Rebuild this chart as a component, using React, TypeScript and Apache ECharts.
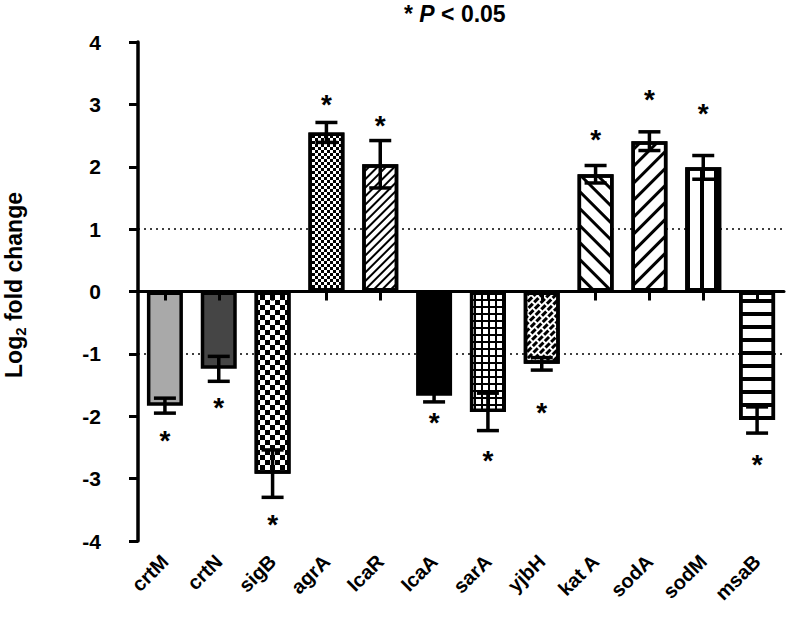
import React, { useEffect, useRef } from "react";
import * as echarts from "echarts";

const genes = ["crtM", "crtN", "sigB", "agrA", "IcaR", "IcaA", "sarA", "yjbH", "kat A", "sodA", "sodM", "msaB"];
const meanLog2FC = [-1.83, -1.24, -2.92, 2.55, 2.04, -1.67, -1.93, -1.16, 1.88, 2.41, 1.99, -2.06];
const errorSEM = [0.12, 0.2, 0.38, 0.16, 0.38, 0.1, 0.3, 0.1, 0.14, 0.15, 0.19, 0.21];
const starY = [-2.28, -1.75, -3.63, 3.11, 2.78, -1.99, -2.6, -1.83, 2.55, 3.19, 2.97, -2.66];
const yTicks = { min: -4, max: 4, interval: 1 };
const refLines = [1, -1];

const FONT = "'Liberation Sans', Arial, sans-serif";

const checker = (s: number) => ({
  symbol: "rect",
  symbolSize: 1,
  color: "#000",
  backgroundColor: "#fff",
  dashArrayX: [[s, s], [0, s, s, 0]],
  dashArrayY: [s, 0],
  rotation: 0,
});

const stripes = (thick: number, gap: number, rot: number) => ({
  symbol: "rect",
  symbolSize: 1,
  color: "#000",
  backgroundColor: "#fff",
  dashArrayX: [1, 0],
  dashArrayY: [thick, gap],
  rotation: rot,
});

const barStyles: any[] = [
  { color: "#a9a9a9" },
  { color: "#454545" },
  { color: "#fff", decal: checker(5) },
  { color: "#fff", decal: checker(2.5) },
  { color: "#fff", decal: stripes(1.6, 3.4, -Math.PI / 4) },
  { color: "#000" },
  {
    color: "#000",
    decal: {
      symbol: "rect",
      symbolSize: 1,
      color: "#fff",
      backgroundColor: "#000",
      dashArrayX: [5, 2],
      dashArrayY: [5, 2],
      rotation: 0,
    },
  },
  {
    color: "#fff",
    decal: {
      symbol: "rect",
      symbolSize: 1,
      color: "#000",
      backgroundColor: "#fff",
      dashArrayX: [[6, 1.5], [2, 1.5, 4, 0]],
      dashArrayY: [2.6, 1.2],
      rotation: -Math.PI / 4,
    },
  },
  { color: "#fff", decal: stripes(3, 9, Math.PI / 4) },
  { color: "#fff", decal: stripes(3, 9, -Math.PI / 4) },
  {
    color: "#fff",
    decal: {
      symbol: "rect",
      symbolSize: 1,
      color: "#000",
      backgroundColor: "#fff",
      dashArrayX: [3.5, 9.5],
      dashArrayY: [1, 0],
      rotation: 0,
    },
  },
  { color: "#fff", decal: stripes(3.5, 9, 0) },
];

export default function App() {
  const ref = useRef<HTMLDivElement>(null);
  useEffect(() => {
    if (!ref.current) return;
    const chart = echarts.init(ref.current, undefined, { renderer: "svg" });
    const option: any = {
      animation: false,
      backgroundColor: "#fff",
      textStyle: { fontFamily: FONT },
      grid: { left: 138, top: 42, width: 646, height: 499, containLabel: false },
      graphic: [
        {
          type: "text",
          left: 404,
          top: 2,
          style: {
            text: "{a|* }{b|P}{a| < 0.05}",
            rich: {
              a: { fontSize: 23, fontWeight: "bold", fontFamily: FONT, fill: "#000" },
              b: { fontSize: 23, fontWeight: "bold", fontStyle: "italic", fontFamily: FONT, fill: "#000" },
            },
          },
        },
        {
          type: "text",
          x: 14,
          y: 285,
          rotation: Math.PI / 2,
          style: {
            text: "{a|Log}{s|2}{a| fold change}",
            align: "center",
            verticalAlign: "middle",
            rich: {
              a: { fontSize: 23, fontWeight: "bold", fontFamily: FONT, fill: "#000", lineHeight: 28, verticalAlign: "middle" },
              s: { fontSize: 15, fontWeight: "bold", fontFamily: FONT, fill: "#000", lineHeight: 15, verticalAlign: "bottom" },
            },
          },
        },
      ],
      xAxis: [
        {
          type: "category",
          data: genes,
          position: "bottom",
          z: 10,
          axisLine: { onZero: true, lineStyle: { color: "#000", width: 3 } },
          axisTick: { show: true, alignWithLabel: true, length: 9, lineStyle: { color: "#000", width: 3 } },
          axisLabel: { show: false },
          splitLine: { show: false },
        },
        {
          type: "category",
          data: genes,
          position: "bottom",
          axisLine: { show: false, onZero: false },
          axisTick: { show: false },
          axisLabel: {
            interval: 0,
            rotate: 45,
            margin: 17,
            fontSize: 20,
            fontWeight: "bold",
            fontFamily: FONT,
            color: "#000",
          },
          splitLine: { show: false },
        },
      ],
      yAxis: {
        type: "value",
        min: yTicks.min,
        max: yTicks.max,
        interval: yTicks.interval,
        z: 10,
        axisLine: { show: true, onZero: false, lineStyle: { color: "#000", width: 3.5 } },
        axisTick: { show: true, length: 9, lineStyle: { color: "#000", width: 3 } },
        axisLabel: { fontSize: 21, fontWeight: "bold", fontFamily: FONT, color: "#000", margin: 37 },
        splitLine: { show: false },
      },
      series: [
        {
          type: "bar",
          xAxisIndex: 0,
          barWidth: 36,
          z: 2,
          data: meanLog2FC.map((v, i) => ({
            value: v,
            itemStyle: { ...barStyles[i], borderColor: "#000", borderWidth: 3.5 },
          })),
          markLine: {
            z: 1,
            silent: true,
            symbol: ["none", "none"],
            label: { show: false },
            lineStyle: { type: [2, 4], color: "#000", width: 1.5 },
            data: refLines.map((y) => ({ yAxis: y })),
          },
        },
        {
          type: "custom",
          xAxisIndex: 0,
          z: 5,
          data: meanLog2FC.map((m, i) => [i, m, errorSEM[i]]),
          renderItem: (params: any, api: any) => {
            const i = api.value(0);
            const m = api.value(1);
            const e = api.value(2);
            const hi = api.coord([i, m + e]);
            const lo = api.coord([i, m - e]);
            const half = 11;
            const st = { stroke: "#000", lineWidth: 3.5 };
            return {
              type: "group",
              children: [
                { type: "line", shape: { x1: hi[0], y1: hi[1], x2: lo[0], y2: lo[1] }, style: st },
                { type: "line", shape: { x1: hi[0] - half, y1: hi[1], x2: hi[0] + half, y2: hi[1] }, style: st },
                { type: "line", shape: { x1: lo[0] - half, y1: lo[1], x2: lo[0] + half, y2: lo[1] }, style: st },
              ],
            };
          },
        },
        {
          type: "custom",
          xAxisIndex: 0,
          z: 5,
          data: starY.map((y, i) => [i, y]),
          renderItem: (params: any, api: any) => {
            const p = api.coord([api.value(0), api.value(1)]);
            return {
              type: "text",
              x: p[0],
              y: p[1] + 7,
              style: {
                text: "*",
                fontSize: 28,
                fontWeight: "bold",
                fontFamily: FONT,
                fill: "#000",
                align: "center",
                verticalAlign: "middle",
              },
            };
          },
        },
      ],
    };
    chart.setOption(option);
    return () => chart.dispose();
  }, []);
  return (
    <div
      ref={ref}
      style={{ position: "absolute", left: 0, top: 0, width: 786, height: 622, background: "#fff" }}
    />
  );
}
